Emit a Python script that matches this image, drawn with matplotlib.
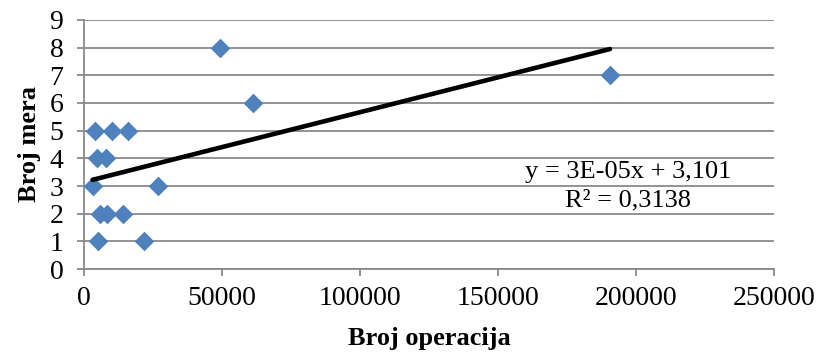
import numpy as np
import matplotlib
matplotlib.use("Agg")
import matplotlib.pyplot as plt

plt.rcParams['font.family'] = ['Liberation Serif', 'DejaVu Serif']

broj_operacija = [4000, 10000, 15800, 4600, 8000, 3000, 26900, 5800, 8400,
                  14200, 5000, 21500, 49300, 61200, 190600]
broj_mera = [5, 5, 5, 4, 4, 3, 3, 2, 2, 2, 1, 1, 8, 6, 7]

x = np.array(broj_operacija, dtype=float)
y = np.array(broj_mera, dtype=float)

# linearni trend
k, n = np.polyfit(x, y, 1)
xt = np.array([x.min(), x.max()])

fig = plt.figure(figsize=(8.18, 3.55), dpi=100)
ax = fig.add_axes([0.103, 0.242, 0.843, 0.702])

ax.scatter(x, y, marker='D', s=100, color='#4F81BD', zorder=3, linewidths=0)
ax.plot(xt, k * xt + n, color='black', lw=3.3, zorder=4, solid_capstyle='round')

ax.set_xlim(0, 250000)
ax.set_ylim(0, 9)
ax.set_xticks(range(0, 250001, 50000))
ax.set_yticks(range(0, 10))
ax.grid(axis='y', color='#8a8a8a', lw=1.3)
ax.set_axisbelow(True)
for s in ['top', 'right']:
    ax.spines[s].set_visible(False)
for s in ['left', 'bottom']:
    ax.spines[s].set_color('#8a8a8a')
    ax.spines[s].set_linewidth(1.3)
ax.tick_params(colors='#8a8a8a', labelcolor='black', labelsize=20, length=5, width=1.3)
ax.tick_params(axis='y', pad=10)
ax.tick_params(axis='x', pad=7)

ax.set_xlabel('Broj operacija', fontsize=19, fontweight='bold', labelpad=12)
ax.set_ylabel('Broj mera', fontsize=19, fontweight='bold', labelpad=6)

ax.text(628, 355 - 172, 'y = 3E-05x + 3,101', transform=None, fontsize=19,
        ha='center', va='center')
ax.text(628, 355 - 200, 'R² = 0,3138', transform=None, fontsize=19,
        ha='center', va='center')

fig.savefig('out.png', dpi=100)
